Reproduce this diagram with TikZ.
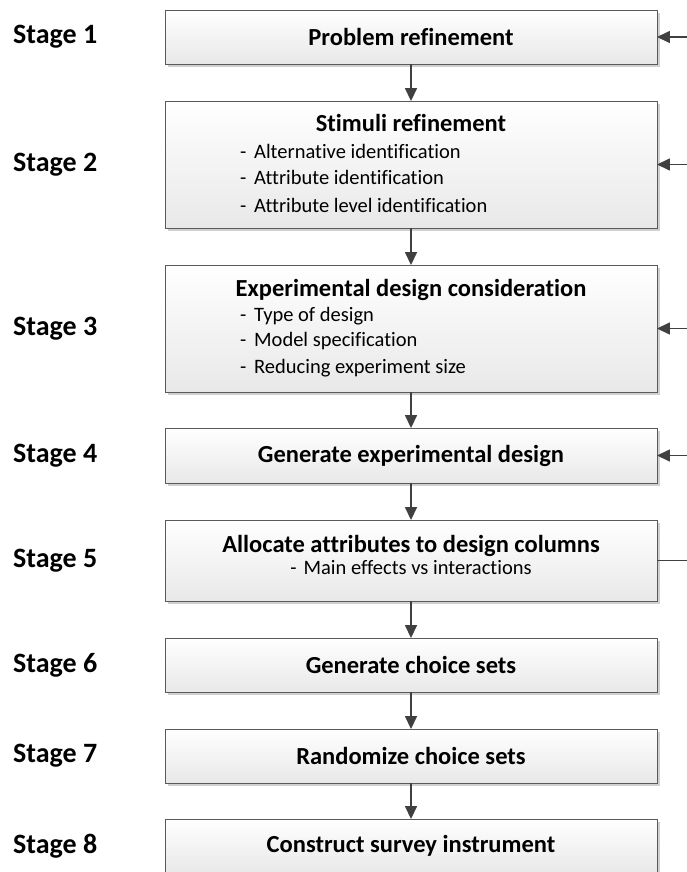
\documentclass[tikz,border=0pt]{standalone}
\usepackage{fontspec}
\setmainfont{Carlito}[Ligatures=NoCommon]
\usetikzlibrary{arrows.meta,shadows}

\definecolor{boxline}{RGB}{90,90,90}
\definecolor{boxbot}{RGB}{232,232,232}
\definecolor{shadowgray}{RGB}{208,208,208}
\definecolor{arrowcol}{RGB}{64,64,64}

\begin{document}
\begin{tikzpicture}[x=1pt,y=-1pt,
  stepbox/.style={draw=boxline, line width=0.9pt, top color=white, bottom color=boxbot,
    minimum width=492pt, inner sep=0pt,
    drop shadow={shadow xshift=3pt, shadow yshift=-3pt, fill=shadowgray, opacity=1}},
  stagelabel/.style={anchor=west, inner sep=0pt, font=\fontsize{28}{32}\selectfont\bfseries},
  titletext/.style={inner sep=0pt, font=\fontsize{24.5}{29}\selectfont\bfseries},
  itemtext/.style={inner sep=0pt, font=\fontsize{20.5}{24}\selectfont, text height=14pt, text depth=4pt},
  conn/.style={draw=arrowcol, line width=1.5pt},
  arr/.style={conn, -{Triangle[length=13pt,width=12pt]}, shorten >=-0.5pt}
]
\useasboundingbox (0,0) rectangle (687,872);

% stage boxes
\node[stepbox, minimum height=54pt]  (b1) at (411,37)    {};
\node[stepbox, minimum height=127pt] (b2) at (411,164.5) {};
\node[stepbox, minimum height=127pt] (b3) at (411,328.5) {};
\node[stepbox, minimum height=55pt]  (b4) at (411,455.5) {};
\node[stepbox, minimum height=81pt]  (b5) at (411,560.5) {};
\node[stepbox, minimum height=54pt]  (b6) at (411,665)   {};
\node[stepbox, minimum height=54pt]  (b7) at (411,756)   {};
\node[stepbox, minimum height=54pt]  (b8) at (411,846)   {};

% box texts
\node[titletext] (t1) at (411,37)  {Problem refinement};
\node[titletext] (t2) at (411,123) {Stimuli refinement};
\node[itemtext, anchor=west] (t2a) at (240,153) {\makebox[14pt][l]{-}Alternative identification};
\node[itemtext, anchor=west] (t2b) at (240,179) {\makebox[14pt][l]{-}Attribute identification};
\node[itemtext, anchor=west] (t2c) at (240,207) {\makebox[14pt][l]{-}Attribute level identification};
\node[titletext] (t3) at (411,290) {Experimental design consideration};
\node[itemtext, anchor=west] (t3a) at (240,316) {\makebox[14pt][l]{-}Type of design};
\node[itemtext, anchor=west] (t3b) at (240,341) {\makebox[14pt][l]{-}Model specification};
\node[itemtext, anchor=west] (t3c) at (240,368) {\makebox[14pt][l]{-}Reducing experiment size};
\node[titletext] (t4) at (411,455.5) {Generate experimental design};
\node[titletext] (t5) at (411,546) {Allocate attributes to design columns};
\node[itemtext] (t5a) at (411,569) {-\hspace{7pt}Main effects vs interactions};
\node[titletext] (t6) at (411,665) {Generate choice sets};
\node[titletext] (t7) at (411,756) {Randomize choice sets};
\node[titletext] (t8) at (411,846) {Construct survey instrument};

% stage labels
\node[stagelabel] (s1) at (13,37)    {Stage 1};
\node[stagelabel] (s2) at (13,164.5) {Stage 2};
\node[stagelabel] (s3) at (13,328.5) {Stage 3};
\node[stagelabel] (s4) at (13,455.5) {Stage 4};
\node[stagelabel] (s5) at (13,560.5) {Stage 5};
\node[stagelabel] (s6) at (13,665)   {Stage 6};
\node[stagelabel] (s7) at (13,756)   {Stage 7};
\node[stagelabel] (s8) at (13,846)   {Stage 8};

% downward flow
\draw[arr] (b1) -- (b2);
\draw[arr] (b2) -- (b3);
\draw[arr] (b3) -- (b4);
\draw[arr] (b4) -- (b5);
\draw[arr] (b5) -- (b6);
\draw[arr] (b6) -- (b7);
\draw[arr] (b7) -- (b8);

% feedback inputs entering from the right
\coordinate (r1) at (690,37);
\coordinate (r2) at (690,164.5);
\coordinate (r3) at (690,328.5);
\coordinate (r4) at (690,455.5);
\coordinate (r5) at (690,560.5);
\draw[arr] (r1) -- (b1.east);
\draw[arr] (r2) -- (b2.east);
\draw[arr] (r3) -- (b3.east);
\draw[arr] (r4) -- (b4.east);
\draw[conn] (b5.east) -- (r5);
\end{tikzpicture}
\end{document}
